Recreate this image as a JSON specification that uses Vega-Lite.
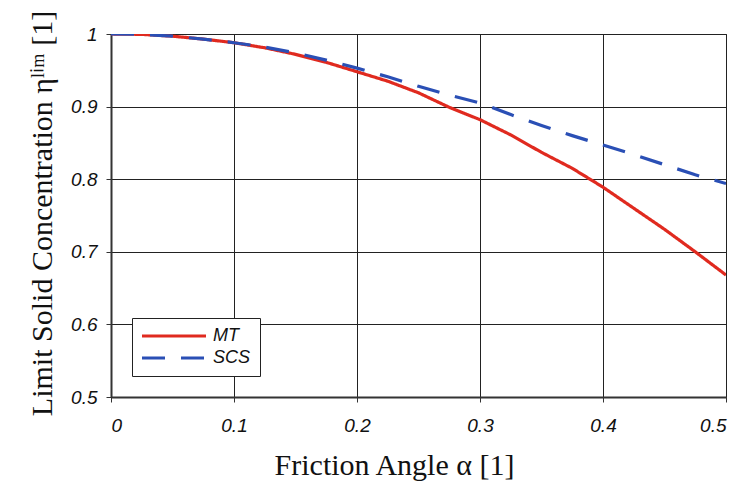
{
  "$schema": "https://vega.github.io/schema/vega-lite/v6.json",
  "autosize": "none",
  "width": 615,
  "height": 363,
  "padding": {"left": 111, "top": 34, "right": 19, "bottom": 94},
  "background": "white",
  "config": {
    "view": {"stroke": "#222", "strokeWidth": 1},
    "axis": {
      "labelFont": "Liberation Sans",
      "labelFontStyle": "italic",
      "labelFontSize": 19,
      "labelColor": "#111",
      "titleFont": "Liberation Serif",
      "titleFontWeight": "normal",
      "titleFontSize": 30,
      "titleColor": "#111",
      "gridColor": "#222",
      "gridWidth": 1,
      "gridOpacity": 1,
      "domainColor": "#333",
      "domainWidth": 2,
      "tickColor": "#333",
      "tickSize": 5
    },
    "legend": {
      "title": null,
      "strokeColor": "#222",
      "fillColor": "white",
      "padding": 9,
      "symbolType": "M-2,0H14",
      "symbolSize": 64,
      "symbolStrokeWidth": 3.2,
      "labelOffset": 54,
      "labelFont": "Liberation Sans",
      "labelFontStyle": "italic",
      "labelFontSize": 18,
      "labelColor": "#111",
      "rowPadding": 4
    }
  },
  "data": {
    "values": [
      {"a": 0.0, "eta": 1.0, "model": "MT"},
      {"a": 0.025, "eta": 0.9995, "model": "MT"},
      {"a": 0.05, "eta": 0.997, "model": "MT"},
      {"a": 0.075, "eta": 0.993, "model": "MT"},
      {"a": 0.1, "eta": 0.988, "model": "MT"},
      {"a": 0.125, "eta": 0.981, "model": "MT"},
      {"a": 0.15, "eta": 0.972, "model": "MT"},
      {"a": 0.175, "eta": 0.961, "model": "MT"},
      {"a": 0.2, "eta": 0.948, "model": "MT"},
      {"a": 0.225, "eta": 0.935, "model": "MT"},
      {"a": 0.25, "eta": 0.919, "model": "MT"},
      {"a": 0.275, "eta": 0.899, "model": "MT"},
      {"a": 0.3, "eta": 0.882, "model": "MT"},
      {"a": 0.325, "eta": 0.861, "model": "MT"},
      {"a": 0.35, "eta": 0.837, "model": "MT"},
      {"a": 0.375, "eta": 0.815, "model": "MT"},
      {"a": 0.4, "eta": 0.789, "model": "MT"},
      {"a": 0.425, "eta": 0.760, "model": "MT"},
      {"a": 0.45, "eta": 0.731, "model": "MT"},
      {"a": 0.475, "eta": 0.700, "model": "MT"},
      {"a": 0.5, "eta": 0.668, "model": "MT"},
      {"a": 0.0, "eta": 1.0, "model": "SCS"},
      {"a": 0.025, "eta": 0.9995, "model": "SCS"},
      {"a": 0.05, "eta": 0.997, "model": "SCS"},
      {"a": 0.075, "eta": 0.993, "model": "SCS"},
      {"a": 0.1, "eta": 0.988, "model": "SCS"},
      {"a": 0.125, "eta": 0.982, "model": "SCS"},
      {"a": 0.15, "eta": 0.974, "model": "SCS"},
      {"a": 0.175, "eta": 0.964, "model": "SCS"},
      {"a": 0.2, "eta": 0.953, "model": "SCS"},
      {"a": 0.225, "eta": 0.941, "model": "SCS"},
      {"a": 0.25, "eta": 0.928, "model": "SCS"},
      {"a": 0.275, "eta": 0.916, "model": "SCS"},
      {"a": 0.3, "eta": 0.905, "model": "SCS"},
      {"a": 0.325, "eta": 0.889, "model": "SCS"},
      {"a": 0.35, "eta": 0.874, "model": "SCS"},
      {"a": 0.375, "eta": 0.860, "model": "SCS"},
      {"a": 0.4, "eta": 0.847, "model": "SCS"},
      {"a": 0.425, "eta": 0.834, "model": "SCS"},
      {"a": 0.45, "eta": 0.820, "model": "SCS"},
      {"a": 0.475, "eta": 0.806, "model": "SCS"},
      {"a": 0.5, "eta": 0.794, "model": "SCS"}
    ]
  },
  "mark": {"type": "line", "strokeWidth": 3.2, "clip": true},
  "encoding": {
    "x": {
      "field": "a",
      "type": "quantitative",
      "scale": {"domain": [0, 0.5], "nice": false},
      "axis": {
        "values": [0, 0.1, 0.2, 0.3, 0.4, 0.5],
        "format": ".1~f",
        "title": "Friction Angle α [1]",
        "labelPadding": 14,
        "titleX": 283,
        "titleY": 68,
        "titleBaseline": "middle"
      }
    },
    "y": {
      "field": "eta",
      "type": "quantitative",
      "scale": {"domain": [0.5, 1], "nice": false, "zero": false},
      "axis": {
        "values": [0.5, 0.6, 0.7, 0.8, 0.9, 1],
        "format": ".1~f",
        "title": "Limit Solid Concentration ηˡⁱᵐ [1]",
        "labelPadding": 9,
        "titleX": -69,
        "titleY": 179,
        "titleBaseline": "middle",
        "titleAngle": -90
      }
    },
    "color": {
      "field": "model",
      "type": "nominal",
      "scale": {"domain": ["MT", "SCS"], "range": ["#e02a1f", "#2a4fb5"]},
      "legend": {"orient": "none", "legendX": 21, "legendY": 284}
    },
    "strokeDash": {
      "field": "model",
      "type": "nominal",
      "scale": {"domain": ["MT", "SCS"], "range": [[1, 0], [23, 16]]},
      "legend": {"orient": "none", "legendX": 21, "legendY": 284}
    }
  }
}
